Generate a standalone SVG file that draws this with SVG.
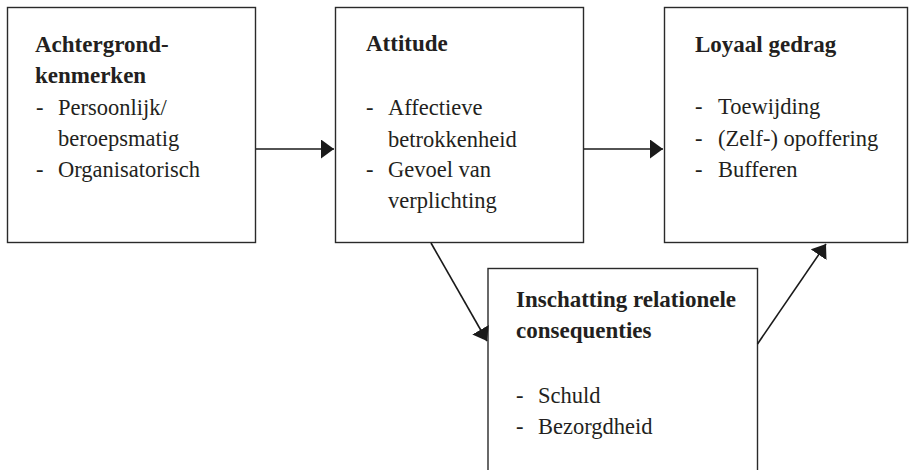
<svg xmlns="http://www.w3.org/2000/svg" width="909" height="470" viewBox="0 0 909 470">
<style>
.box{fill:#fff;stroke:#2a2a2a;stroke-width:1.4}
.t{font-family:"Liberation Serif","Times New Roman",serif;font-size:22.5px;fill:#231f20}
.b{font-weight:bold;font-size:23px}
.edge{stroke:#1a1a1a;stroke-width:1.6;fill:none}
</style>
<defs>
<marker id="ah" viewBox="0 0 13 19" refX="13" refY="9.5" markerWidth="13" markerHeight="19" markerUnits="userSpaceOnUse" orient="auto">
<path d="M0,0 L13,9.5 L0,19 Z" fill="#1a1a1a"/>
</marker>
</defs>
<rect width="909" height="470" fill="#fff"/>
<g id="node-achtergrond">
<rect class="box" x="7.5" y="7.5" width="248" height="235"/>
<text class="t b" x="35" y="52">Achtergrond-</text>
<text class="t b" x="35" y="83">kenmerken</text>
<text class="t" x="36" y="115">-</text>
<text class="t" x="58" y="115">Persoonlijk/</text>
<text class="t" x="58" y="146">beroepsmatig</text>
<text class="t" x="36" y="177">-</text>
<text class="t" x="58" y="177">Organisatorisch</text>
</g>
<g id="node-attitude">
<rect class="box" x="335.5" y="7.5" width="248" height="235"/>
<text class="t b" x="366" y="51">Attitude</text>
<text class="t" x="366" y="115">-</text>
<text class="t" x="388" y="115">Affectieve</text>
<text class="t" x="388" y="146.5">betrokkenheid</text>
<text class="t" x="366" y="177">-</text>
<text class="t" x="388" y="177">Gevoel van</text>
<text class="t" x="388" y="208">verplichting</text>
</g>
<g id="node-loyaal">
<rect class="box" x="664.5" y="7.5" width="243" height="235"/>
<text class="t b" x="695" y="52">Loyaal gedrag</text>
<text class="t" x="695" y="114">-</text>
<text class="t" x="718" y="114">Toewijding</text>
<text class="t" x="695" y="146">-</text>
<text class="t" x="718" y="146">(Zelf-) opoffering</text>
<text class="t" x="695" y="177">-</text>
<text class="t" x="718" y="177">Bufferen</text>
</g>
<g id="node-inschatting">
<rect class="box" x="488" y="268.5" width="269.5" height="220"/>
<text class="t b" x="516" y="307">Inschatting relationele</text>
<text class="t b" x="516" y="338">consequenties</text>
<text class="t" x="516" y="403">-</text>
<text class="t" x="538" y="403">Schuld</text>
<text class="t" x="516" y="434">-</text>
<text class="t" x="538" y="434">Bezorgdheid</text>
</g>
<g id="connectors">
<line class="edge" x1="256" y1="149" x2="334" y2="149" marker-end="url(#ah)"/>
<line class="edge" x1="584" y1="149" x2="663" y2="149" marker-end="url(#ah)"/>
<line class="edge" x1="431" y1="243" x2="487" y2="341" marker-end="url(#ah)"/>
<line class="edge" x1="757.5" y1="344" x2="826" y2="244" marker-end="url(#ah)"/>
</g>
</svg>
